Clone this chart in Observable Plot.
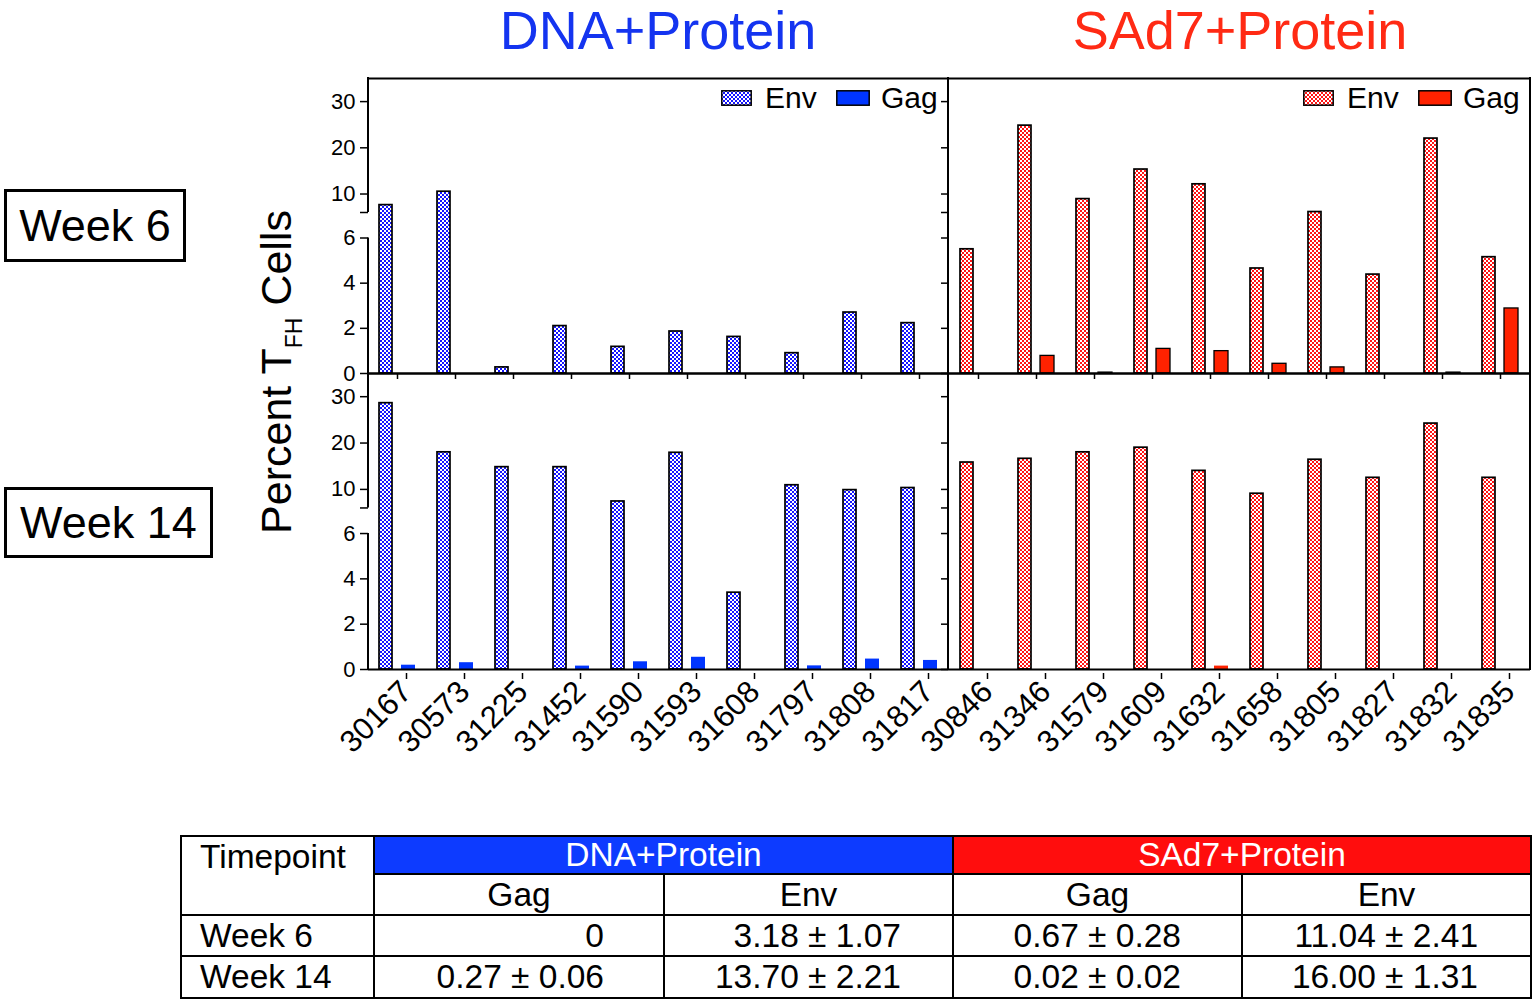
<!DOCTYPE html>
<html><head><meta charset="utf-8">
<script src="https://cdn.jsdelivr.net/npm/d3@7"></script>
<script src="https://cdn.jsdelivr.net/npm/@observablehq/plot@0.6"></script>
<style>
body{margin:0;background:#fff;}
#root{position:relative;width:1535px;height:1000px;overflow:hidden;font-family:"Liberation Sans",Arial,sans-serif;color:#000;background:#fff;}
.abs{position:absolute;}
.title{font-size:54px;line-height:1;text-align:center;width:700px;white-space:nowrap;}
.week{border:3px solid #000;box-sizing:border-box;font-size:45px;display:flex;align-items:center;justify-content:center;line-height:1;}
.leg{font-size:30px;line-height:30px;white-space:nowrap;}
table{border-collapse:collapse;table-layout:fixed;font-size:33.5px;}
td{border:2px solid #000;padding:0;line-height:1;white-space:nowrap;}
</style></head>
<body>
<svg width="0" height="0" style="position:absolute">
<defs>
<pattern id="envBlue" patternUnits="userSpaceOnUse" width="4" height="4"><rect width="4" height="4" fill="#fff"/><rect width="2" height="2" fill="#1414ff"/><rect x="2" y="2" width="2" height="2" fill="#1414ff"/></pattern>
<pattern id="envRed" patternUnits="userSpaceOnUse" width="4" height="4"><rect width="4" height="4" fill="#fff"/><rect width="2" height="2" fill="#ff1414"/><rect x="2" y="2" width="2" height="2" fill="#ff1414"/></pattern>
</defs></svg>
<div id="root"></div>
<script>
// ---------- data ----------
const dnaAnimals = ["30167","30573","31225","31452","31590","31593","31608","31797","31808","31817"];
const sad7Animals = ["30846","31346","31579","31609","31632","31658","31805","31827","31832","31835"];

const dnaEnvWk6  = [7.6, 10.5, 0.27, 2.1, 1.18, 1.86, 1.62, 0.9, 2.7, 2.23];
const dnaGagWk6  = [0, 0, 0, 0, 0, 0, 0, 0, 0, 0];
const sad7EnvWk6 = [5.5, 24.8, 8.9, 15.3, 12.1, 4.65, 6.1, 4.38, 22.0, 5.15];
const sad7GagWk6 = [0, 0.78, 0.04, 1.09, 0.99, 0.43, 0.27, 0, 0.04, 2.88];

const dnaEnvWk14  = [28.6, 18.0, 14.8, 14.8, 7.4, 17.9, 3.39, 10.9, 9.85, 10.3];
const dnaGagWk14  = [0.19, 0.30, 0, 0.15, 0.34, 0.54, 0, 0.16, 0.46, 0.40];
const sad7EnvWk14 = [15.8, 16.6, 18.0, 19.0, 14.0, 9.07, 16.4, 12.5, 24.2, 12.5];
const sad7GagWk14 = [0, 0, 0, 0, 0.15, 0, 0, 0, 0, 0];

const groupTitles = ["DNA+Protein", "SAd7+Protein"];
const weekLabels = ["Week 6", "Week 14"];
const seriesNames = ["Env", "Gag"];
const yTicks = [0, 2, 4, 6, 10, 20, 30];
const yBreak = [6, 35];   // lower segment 0–6, upper segment 6–35 (broken axis)

const tableSubHeads = ["Gag", "Env", "Gag", "Env"];
const tableWk6  = ["0", "3.18 ± 1.07", "0.67 ± 0.28", "11.04 ± 2.41"];
const tableWk14 = ["0.27 ± 0.06", "13.70 ± 2.21", "0.02 ± 0.02", "16.00 ± 1.31"];

// ---------- styles ----------
const FONT = "Liberation Sans, Arial, sans-serif";
const BLUE_TITLE = "#1434f0", RED_TITLE = "#ff2a14";
const BLUE_SOLID = "#0035ff", RED_SOLID = "#ff2200";
const NS = "http://www.w3.org/2000/svg";
const root = document.getElementById("root");

function div(cls, css, html) {
  const d = document.createElement("div");
  d.className = "abs " + (cls || "");
  Object.assign(d.style, css);
  d.innerHTML = html;
  root.appendChild(d);
  return d;
}

// titles
div("title", {left: (658 - 350) + "px", top: "3px", color: BLUE_TITLE}, groupTitles[0]);
div("title", {left: (1240 - 350) + "px", top: "3px", color: RED_TITLE}, groupTitles[1]);

// week boxes
div("week", {left: "4px", top: "189px", width: "182px", height: "73px"}, weekLabels[0]);
div("week", {left: "4px", top: "487px", width: "209px", height: "71px"}, weekLabels[1]);

// y label
div("", {left: "276px", top: "372px", transform: "translate(-50%,-50%) rotate(-90deg)", fontSize: "43px",
  whiteSpace: "nowrap", lineHeight: "1"}, 'Percent T<span style="font-size:23px;position:relative;top:11px">FH</span> Cells');

// ---------- broken y axis: value -> position on a [0,1] linear scale ----------
const LOWER = 135.5 / 295, GAP = 25.5 / 295;
function brk(v, upper) {
  const [b, top] = yBreak;
  if (v < b || (v === b && !upper)) return v / b * LOWER;
  return LOWER + GAP + (v - b) / (top - b) * (1 - LOWER - GAP);
}
const tickPos = yTicks.map(v => brk(v)).concat([brk(yBreak[0], true)]);
const tickText = new Map(yTicks.map(v => [brk(v), String(v)]));

function panel(o) {
  const mt = 18;
  const width = o.ml + o.pw + o.mr, height = mt + o.ph + o.mb;
  const data = o.animals.map((a, i) => ({animal: a, env: o.env[i], gag: o.gag[i]}));
  const frame = (index, scales, values, dims) => {
    const g = document.createElementNS(NS, "g");
    const y = scales.y;
    const x0 = dims.marginLeft, x1 = dims.width - dims.marginRight;
    const add = (xa, ya, xb, yb) => {
      const l = document.createElementNS(NS, "line");
      l.setAttribute("x1", xa); l.setAttribute("y1", ya); l.setAttribute("x2", xb); l.setAttribute("y2", yb);
      l.setAttribute("stroke", "#000"); l.setAttribute("stroke-width", 2);
      g.appendChild(l);
    };
    const yb = y(0) + 1, yt = y(1) - 1;
    if (o.broken) {
      add(x0, yb, x0, y(brk(yBreak[0])));
      add(x0, y(brk(yBreak[0], true)), x0, yt);
    } else add(x0, yb, x0, yt);
    add(x1, yb, x1, yt);
    return g;
  };
  const svg = Plot.plot({
    width, height, marginLeft: o.ml, marginRight: o.mr, marginTop: mt, marginBottom: o.mb,
    style: {background: "transparent", overflow: "visible", fontFamily: FONT, color: "#000"},
    x: {type: "band", domain: o.animals, padding: 0},
    y: {type: "linear", domain: [0, 1]},
    marks: [
      Plot.barY(data.filter(d => d.env > 0), {x: "animal", y: d => brk(d.env), fill: o.envFill, stroke: "#000", strokeWidth: 1.7, insetLeft: 11, insetRight: 34}),
      Plot.barY(data.filter(d => d.gag > 0), {x: "animal", y: d => brk(d.gag), fill: o.gagFill, stroke: o.gagStroke ? "#000" : "none", strokeWidth: 1.3, insetLeft: 33, insetRight: 11}),
      Plot.ruleY([0, 1], {stroke: "#000", strokeWidth: 2}),
      frame,
      Plot.axisY({ticks: tickPos, tickSize: o.yLabels ? 8 : 7, tickPadding: 5, fontSize: 22, label: null, strokeWidth: 1.5,
        tickFormat: o.yLabels ? (p => tickText.get(p) ?? "") : (() => "")}),
      o.xLabels
        ? Plot.axisX({tickRotate: -45, fontSize: 31, tickSize: 6, tickPadding: 7, dx: 9, dy: 4, label: null, strokeWidth: 1.5})
        : Plot.axisX({tickSize: 6, tickFormat: () => "", label: null, strokeWidth: 1.5})
    ]
  });
  svg.style.position = "absolute";
  svg.style.left = o.left + "px";
  svg.style.top = o.top + "px";
  svg.style.maxWidth = "none";
  root.appendChild(svg);
}

panel({animals: dnaAnimals, env: dnaEnvWk6, gag: dnaGagWk6, envFill: "url(#envBlue)", gagFill: BLUE_SOLID, gagStroke: true,
  left: 300, top: 60, ml: 68, mr: 10, pw: 580, ph: 295, mb: 12, yLabels: true, xLabels: false, broken: true});
panel({animals: sad7Animals, env: sad7EnvWk6, gag: sad7GagWk6, envFill: "url(#envRed)", gagFill: RED_SOLID, gagStroke: true,
  left: 938, top: 60, ml: 10, mr: 8, pw: 582, ph: 295, mb: 12, yLabels: false, xLabels: false, broken: false});
panel({animals: dnaAnimals, env: dnaEnvWk14, gag: dnaGagWk14, envFill: "url(#envBlue)", gagFill: BLUE_SOLID, gagStroke: false,
  left: 300, top: 355, ml: 68, mr: 10, pw: 580, ph: 296, mb: 110, yLabels: true, xLabels: true, broken: true});
panel({animals: sad7Animals, env: sad7EnvWk14, gag: sad7GagWk14, envFill: "url(#envRed)", gagFill: RED_SOLID, gagStroke: false,
  left: 938, top: 355, ml: 10, mr: 8, pw: 582, ph: 296, mb: 110, yLabels: false, xLabels: true, broken: false});

// ---------- legends ----------
function legend(x0, pat, solid) {
  const sw = (left, w, fill) => div("", {left: left + "px", top: "90px", width: w + "px", height: "16px"},
    `<svg width="${w}" height="16" style="display:block"><rect x="0.8" y="0.8" width="${w - 1.6}" height="14.4" fill="${fill}" stroke="#000" stroke-width="1.5"/></svg>`);
  sw(x0, 31, `url(#${pat})`);
  div("leg", {left: (x0 + 44) + "px", top: "83px"}, seriesNames[0]);
  sw(x0 + 115, 34, solid);
  div("leg", {left: (x0 + 160) + "px", top: "83px"}, seriesNames[1]);
}
legend(721, "envBlue", BLUE_SOLID);
legend(1303, "envRed", RED_SOLID);

// ---------- table ----------
const colW = [193, 290, 289, 289, 289];
const padR = [0, 59, 51, 60, 52];
let html = '<table style="width:1350px"><colgroup>' + colW.map(w => `<col style="width:${w}px">`).join("") + '</colgroup>';
html += `<tr style="height:38px"><td rowspan="2" style="vertical-align:top;padding:3px 0 0 18px">Timepoint</td>` +
  `<td colspan="2" style="background:#0d3bff;color:#fff;text-align:center">${groupTitles[0]}</td>` +
  `<td colspan="2" style="background:#ff0d0d;color:#fff;text-align:center">${groupTitles[1]}</td></tr>`;
html += '<tr style="height:41px">' + tableSubHeads.map(s => `<td style="text-align:center">${s}</td>`).join("") + '</tr>';
[[weekLabels[0], tableWk6, 41], [weekLabels[1], tableWk14, 42]].forEach(([lab, vals, h]) => {
  html += `<tr style="height:${h}px"><td style="padding-left:18px">${lab}</td>` +
    vals.map((v, i) => `<td style="text-align:right;padding-right:${padR[i + 1]}px">${v}</td>`).join("") + '</tr>';
});
html += '</table>';
div("", {left: "180px", top: "835px"}, html);
</script>
</body></html>
